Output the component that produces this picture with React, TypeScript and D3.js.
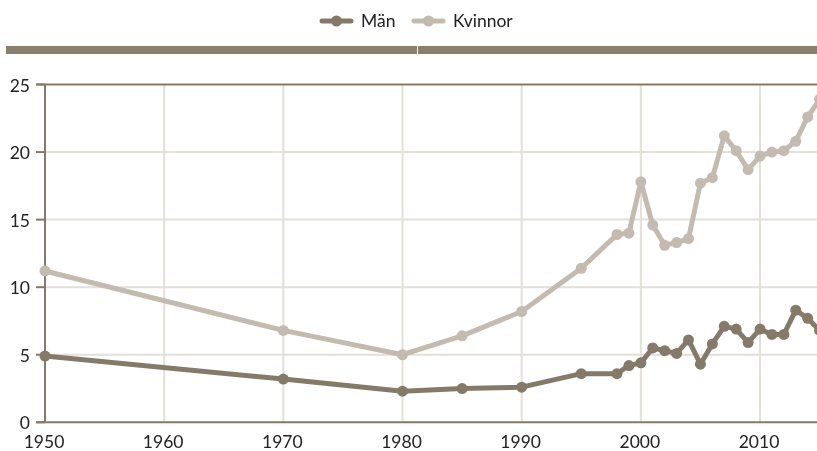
import { useEffect, useRef } from 'react'
import * as d3 from 'd3'

const years = [1950, 1970, 1980, 1985, 1990, 1995, 1998, 1999, 2000, 2001, 2002, 2003, 2004, 2005, 2006, 2007, 2008, 2009, 2010, 2011, 2012, 2013, 2014, 2015]
const man = [4.9, 3.2, 2.3, 2.5, 2.6, 3.6, 3.6, 4.2, 4.4, 5.5, 5.3, 5.1, 6.1, 4.3, 5.8, 7.1, 6.9, 5.9, 6.9, 6.5, 6.5, 8.3, 7.7, 6.8]
const kvinnor = [11.2, 6.8, 5.0, 6.4, 8.2, 11.4, 13.9, 14.0, 17.8, 14.6, 13.1, 13.3, 13.6, 17.7, 18.1, 21.2, 20.1, 18.7, 19.7, 20.0, 20.1, 20.8, 22.6, 23.9]
const xTicks = [1950, 1960, 1970, 1980, 1990, 2000, 2010]
const yTicks = [0, 5, 10, 15, 20, 25]

const seriesNames = ['Män', 'Kvinnor']
const colors = ['#857a69', '#c3bbb0']
const font = 'Lato, "Open Sans", sans-serif'
const fontSize = 17.5

export default function App() {
  const svgRef = useRef<SVGSVGElement | null>(null)

  useEffect(() => {
    if (!svgRef.current) return
    const svg = d3.select(svgRef.current)
    svg.selectAll('*').remove()

    const W = 817
    const H = 451
    svg.attr('width', W).attr('height', H)

    const x = d3.scaleLinear().domain([1950, 2015]).range([45, 819.6])
    const y = d3.scaleLinear().domain([0, 25]).range([422.3, 84.5])

    // legend
    const legend = svg.append('g').attr('transform', 'translate(0, 21)')
    const legendX = [322, 414]
    seriesNames.forEach((name, i) => {
      const g = legend.append('g').attr('transform', `translate(${legendX[i]}, 0)`)
      g.append('line')
        .attr('x1', 0)
        .attr('x2', 29)
        .attr('stroke', colors[i])
        .attr('stroke-width', 5)
        .attr('stroke-linecap', 'round')
      g.append('circle').attr('cx', 14.5).attr('r', 5.5).attr('fill', colors[i])
      g.append('text')
        .attr('x', 39)
        .attr('y', 6)
        .attr('font-family', font)
        .attr('font-size', fontSize)
        .attr('fill', '#222')
        .text(name)
    })

    // top band
    svg.append('rect').attr('x', 6).attr('y', 46).attr('width', 411).attr('height', 8).attr('fill', '#8a7e6d')
    svg.append('rect').attr('x', 418).attr('y', 46).attr('width', 399).attr('height', 8).attr('fill', '#8a7e6d')

    // grid
    const grid = svg.append('g')
    xTicks.slice(1).forEach((t) => {
      grid.append('line')
        .attr('x1', x(t))
        .attr('x2', x(t))
        .attr('y1', y(25))
        .attr('y2', y(0))
        .attr('stroke', '#e3dfd9')
        .attr('stroke-width', 2)
    })
    yTicks.slice(1, -1).forEach((t) => {
      grid.append('line')
        .attr('x1', x(1950))
        .attr('x2', W)
        .attr('y1', y(t))
        .attr('y2', y(t))
        .attr('stroke', '#e3dfd9')
        .attr('stroke-width', 2)
    })

    // axes
    const axisColor = '#857a69'
    svg.append('line').attr('x1', 36).attr('x2', W).attr('y1', y(25)).attr('y2', y(25)).attr('stroke', axisColor).attr('stroke-width', 2)
    svg.append('line').attr('x1', 36).attr('x2', W).attr('y1', y(0)).attr('y2', y(0)).attr('stroke', axisColor).attr('stroke-width', 2)
    svg.append('line').attr('x1', x(1950)).attr('x2', x(1950)).attr('y1', y(25)).attr('y2', y(0)).attr('stroke', axisColor).attr('stroke-width', 2)

    yTicks.forEach((t) => {
      svg.append('line').attr('x1', 36).attr('x2', x(1950)).attr('y1', y(t)).attr('y2', y(t)).attr('stroke', axisColor).attr('stroke-width', 2)
      svg.append('text')
        .attr('x', 30)
        .attr('y', y(t) + 7)
        .attr('text-anchor', 'end')
        .attr('font-family', font)
        .attr('font-size', fontSize)
        .attr('fill', '#222')
        .text(t)
    })
    xTicks.forEach((t) => {
      svg.append('text')
        .attr('x', x(t) - 1)
        .attr('y', 448)
        .attr('text-anchor', 'middle')
        .attr('font-family', font)
        .attr('font-size', fontSize)
        .attr('fill', '#222')
        .text(t)
    })

    // series
    const line = d3.line<[number, number]>().x((d) => x(d[0])).y((d) => y(d[1]))
    ;[kvinnor, man].forEach((vals) => {
      const i = vals === man ? 0 : 1
      const pts = years.map((yr, j) => [yr, vals[j]] as [number, number])
      svg.append('path')
        .attr('d', line(pts))
        .attr('fill', 'none')
        .attr('stroke', colors[i])
        .attr('stroke-width', 5)
        .attr('stroke-linejoin', 'round')
      svg.selectAll(null)
        .data(pts)
        .enter()
        .append('circle')
        .attr('cx', (d) => x(d[0]))
        .attr('cy', (d) => y(d[1]))
        .attr('r', 5.5)
        .attr('fill', colors[i])
    })
  }, [])

  return (
    <div style={{ position: 'fixed', left: 0, top: 0 }}>
      <svg ref={svgRef} style={{ display: 'block' }}></svg>
    </div>
  )
}
